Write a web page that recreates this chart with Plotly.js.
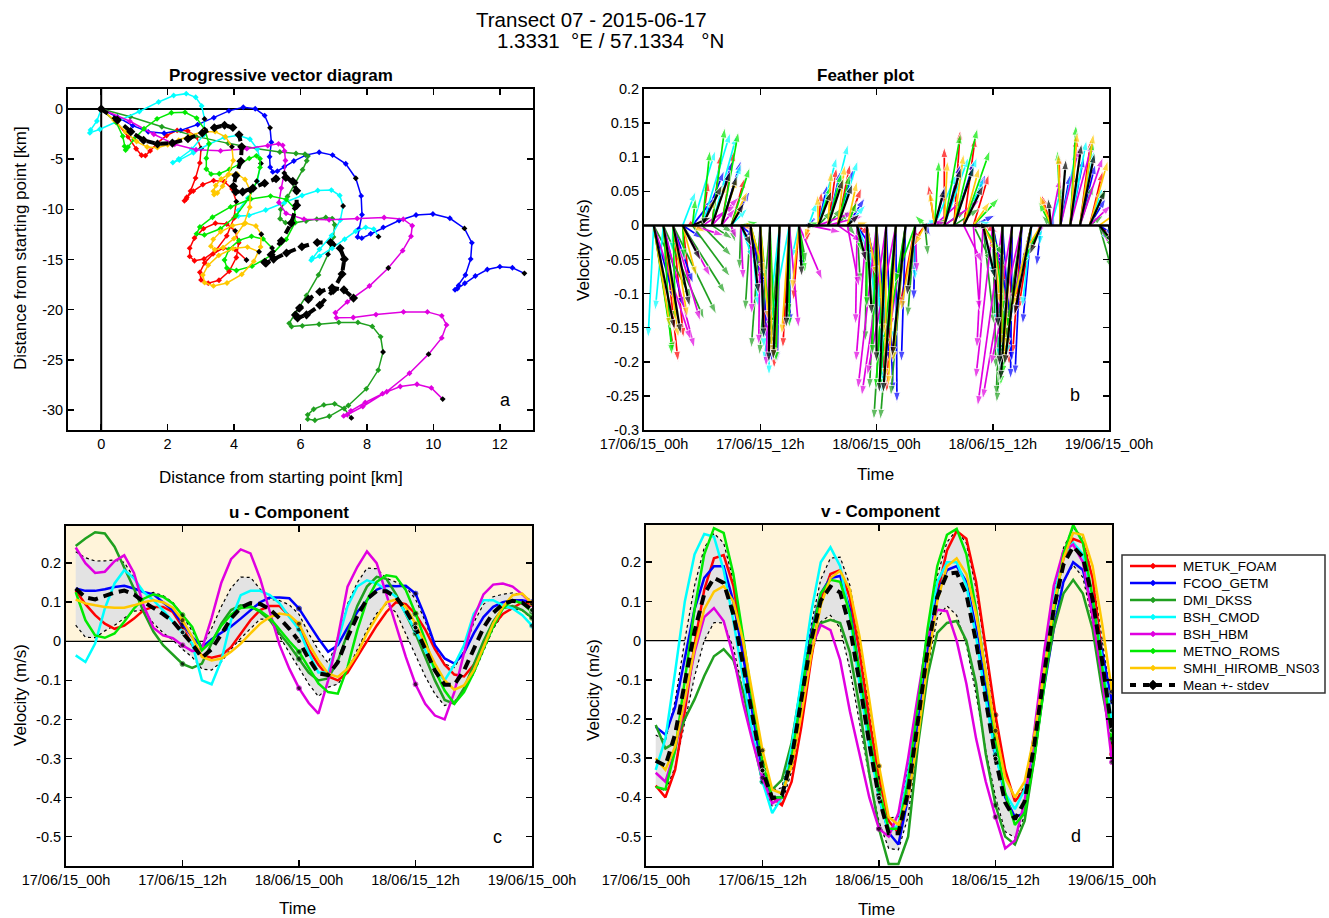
<!DOCTYPE html>
<html><head><meta charset="utf-8">
<script src="https://cdn.plot.ly/plotly-3.0.1.min.js"></script>
<style>html,body{margin:0;padding:0;background:#fff;}#chart{width:1329px;height:918px;}</style>
</head><body><div id="chart"></div>
<script>
// ---------------- DATA ----------------
const hours = [1,2,3,4,5,6,7,8,9,10,11,12,13,14,15,16,17,18,19,20,21,22,23,24,25,26,27,28,29,30,31,32,33,34,35,36,37,38,39,40,41,42,43,44,45,46,47,48];
const models = ["METUK_FOAM","FCOO_GETM","DMI_DKSS","BSH_CMOD","BSH_HBM","METNO_ROMS","SMHI_HIROMB_NS03"];
const meanName = "Mean +- stdev";
const colors = ["#ff0000","#0000ff","#20a020","#00ffff","#e000e0","#00ea00","#ffc800"];

// u-component (m/s), hourly
const u_METUK_FOAM = [0.13,0.095,0.067,0.045,0.032,0.04,0.058,0.08,0.088,0.088,0.075,0.037,-0.01,-0.036,-0.042,-0.036,-0.015,0.02,0.054,0.08,0.09,0.09,0.065,0.035,-0.02,-0.06,-0.09,-0.1,-0.08,-0.04,0.0,0.04,0.075,0.1,0.095,0.07,0.03,-0.02,-0.06,-0.085,-0.09,-0.06,-0.01,0.04,0.07,0.085,0.1,0.095];
const u_FCOO_GETM = [0.135,0.129,0.129,0.133,0.139,0.142,0.135,0.126,0.12,0.1,0.079,0.045,0.011,-0.015,0.005,0.022,0.038,0.058,0.08,0.1,0.112,0.112,0.11,0.084,0.045,0.007,-0.027,-0.01,0.035,0.075,0.105,0.132,0.142,0.141,0.142,0.122,0.062,-0.01,-0.044,-0.057,-0.03,0.02,0.062,0.088,0.1,0.105,0.105,0.1];
const u_DMI_DKSS = [0.244,0.263,0.279,0.276,0.242,0.19,0.135,0.075,0.025,-0.01,-0.035,-0.058,-0.068,-0.057,-0.005,0.045,0.08,0.092,0.09,0.075,0.054,0.02,-0.01,-0.045,-0.08,-0.1,-0.095,-0.05,0.02,0.09,0.14,0.165,0.16,0.12,0.07,0.02,-0.04,-0.1,-0.15,-0.16,-0.12,-0.06,0.0,0.05,0.085,0.09,0.08,0.06];
const u_BSH_CMOD = [-0.036,-0.053,-0.006,0.084,0.148,0.182,0.161,0.126,0.105,0.079,0.05,0.024,-0.006,-0.1,-0.11,-0.049,0.054,0.118,0.129,0.129,0.118,0.097,0.062,0.03,-0.03,-0.08,-0.08,0.0,0.09,0.14,0.156,0.148,0.131,0.114,0.07,0.028,-0.023,-0.074,-0.1,-0.06,-0.01,0.07,0.105,0.105,0.092,0.084,0.067,0.04];
const u_BSH_HBM = [0.24,0.2,0.175,0.178,0.205,0.22,0.175,0.09,0.035,0.015,0.008,-0.01,-0.025,-0.02,0.06,0.15,0.21,0.235,0.225,0.16,0.075,-0.01,-0.07,-0.12,-0.158,-0.185,-0.1,0.01,0.14,0.19,0.23,0.2,0.12,0.04,-0.04,-0.11,-0.16,-0.19,-0.2,-0.13,-0.03,0.06,0.12,0.145,0.148,0.14,0.12,0.095];
const u_METNO_ROMS = [0.126,0.054,0.015,0.009,0.02,0.05,0.084,0.109,0.12,0.114,0.097,0.067,0.037,-0.023,0.0,0.04,0.068,0.085,0.088,0.078,0.06,0.03,0.0,-0.027,-0.066,-0.108,-0.13,-0.134,-0.066,0.028,0.105,0.152,0.169,0.165,0.131,0.071,0.003,-0.074,-0.126,-0.16,-0.13,-0.08,-0.02,0.037,0.084,0.105,0.097,0.075];
const u_SMHI_HIROMB_NS03 = [0.107,0.097,0.092,0.088,0.086,0.086,0.092,0.1,0.105,0.1,0.086,0.054,0.011,-0.04,-0.049,-0.044,-0.027,-0.006,0.02,0.045,0.062,0.071,0.067,0.045,-0.006,-0.049,-0.083,-0.091,-0.07,-0.032,0.02,0.062,0.1,0.107,0.088,0.045,-0.006,-0.057,-0.1,-0.124,-0.113,-0.074,-0.015,0.045,0.088,0.118,0.122,0.097];

// v-component (m/s), hourly
const v_METUK_FOAM = [-0.37,-0.40,-0.33,-0.18,-0.01,0.13,0.21,0.218,0.14,-0.01,-0.17,-0.32,-0.40,-0.42,-0.36,-0.22,-0.05,0.10,0.17,0.18,0.11,-0.03,-0.20,-0.35,-0.46,-0.49,-0.40,-0.24,-0.05,0.12,0.23,0.28,0.26,0.15,-0.02,-0.19,-0.33,-0.41,-0.38,-0.25,-0.08,0.09,0.21,0.26,0.25,0.16,-0.04,-0.29];
const v_FCOO_GETM = [-0.22,-0.24,-0.17,-0.04,0.08,0.16,0.19,0.19,0.10,-0.04,-0.19,-0.34,-0.40,-0.40,-0.29,-0.13,0.02,0.12,0.16,0.165,0.08,-0.08,-0.24,-0.40,-0.49,-0.52,-0.40,-0.22,-0.03,0.12,0.18,0.19,0.15,0.03,-0.12,-0.28,-0.40,-0.45,-0.44,-0.29,-0.12,0.03,0.15,0.20,0.18,0.08,-0.03,-0.155];
const v_DMI_DKSS = [-0.215,-0.275,-0.26,-0.20,-0.15,-0.09,-0.04,-0.022,-0.05,-0.13,-0.25,-0.36,-0.38,-0.355,-0.26,-0.11,0.0,0.045,0.053,0.045,-0.03,-0.17,-0.34,-0.48,-0.57,-0.57,-0.50,-0.27,-0.09,0.02,0.045,0.05,0.0,-0.11,-0.29,-0.42,-0.50,-0.52,-0.46,-0.30,-0.11,0.03,0.12,0.155,0.12,0.03,-0.13,-0.26];
const v_BSH_CMOD = [-0.33,-0.25,-0.08,0.10,0.22,0.272,0.265,0.18,0.05,-0.10,-0.24,-0.36,-0.44,-0.40,-0.27,-0.10,0.07,0.20,0.238,0.19,0.06,-0.11,-0.27,-0.40,-0.49,-0.47,-0.34,-0.16,0.02,0.15,0.20,0.20,0.14,0.01,-0.15,-0.29,-0.39,-0.43,-0.38,-0.24,-0.06,0.11,0.22,0.25,0.22,0.11,-0.05,-0.21];
const v_BSH_HBM = [-0.337,-0.36,-0.28,-0.15,-0.03,0.06,0.083,0.05,-0.04,-0.16,-0.26,-0.35,-0.415,-0.40,-0.30,-0.16,-0.02,0.04,0.027,-0.05,-0.18,-0.29,-0.40,-0.48,-0.50,-0.44,-0.30,-0.14,0.01,0.079,0.075,0.0,-0.11,-0.25,-0.36,-0.45,-0.53,-0.51,-0.41,-0.23,-0.03,0.14,0.23,0.245,0.20,0.06,-0.10,-0.31];
const v_METNO_ROMS = [-0.373,-0.38,-0.28,-0.10,0.08,0.22,0.287,0.275,0.17,0.01,-0.16,-0.31,-0.40,-0.40,-0.30,-0.14,0.01,0.12,0.155,0.15,0.07,-0.08,-0.24,-0.38,-0.48,-0.48,-0.36,-0.17,0.03,0.19,0.27,0.285,0.22,0.08,-0.09,-0.25,-0.39,-0.47,-0.44,-0.30,-0.12,0.07,0.22,0.295,0.25,0.11,-0.07,-0.25];
const v_SMHI_HIROMB_NS03 = [-0.30,-0.33,-0.27,-0.15,-0.02,0.08,0.125,0.139,0.10,0.0,-0.14,-0.28,-0.38,-0.39,-0.32,-0.19,-0.04,0.09,0.16,0.178,0.13,0.01,-0.15,-0.32,-0.45,-0.47,-0.40,-0.25,-0.06,0.10,0.19,0.21,0.17,0.07,-0.08,-0.23,-0.35,-0.40,-0.36,-0.24,-0.08,0.09,0.21,0.275,0.27,0.19,0.04,-0.13];

// tick labels
const timeTickVals = [0,12,24,36,48];
const timeTickText = ["17/06/15_00h","17/06/15_12h","18/06/15_00h","18/06/15_12h","19/06/15_00h"];
const pvdXTickVals = [0,2,4,6,8,10,12];
const pvdXTickText = ["0","2","4","6","8","10","12"];
const pvdYTickVals = [0,-5,-10,-15,-20,-25,-30];
const pvdYTickText = ["0","-5","-10","-15","-20","-25","-30"];
const featherYTickVals = [0.2,0.15,0.1,0.05,0,-0.05,-0.1,-0.15,-0.2,-0.25,-0.3];
const featherYTickText = ["0.2","0.15","0.1","0.05","0","-0.05","-0.1","-0.15","-0.2","-0.25","-0.3"];
const compYTickVals = [0.2,0.1,0,-0.1,-0.2,-0.3,-0.4,-0.5];
const compYTickText = ["0.2","0.1","0","-0.1","-0.2","-0.3","-0.4","-0.5"];

// ---------------- DERIVED ----------------
const U = [u_METUK_FOAM,u_FCOO_GETM,u_DMI_DKSS,u_BSH_CMOD,u_BSH_HBM,u_METNO_ROMS,u_SMHI_HIROMB_NS03];
const V = [v_METUK_FOAM,v_FCOO_GETM,v_DMI_DKSS,v_BSH_CMOD,v_BSH_HBM,v_METNO_ROMS,v_SMHI_HIROMB_NS03];
function meanOf(S){ return hours.map((_,i)=>S.reduce((s,a)=>s+a[i],0)/S.length); }
function stdOf(S,m){ return hours.map((_,i)=>Math.sqrt(S.reduce((s,a)=>s+(a[i]-m[i])*(a[i]-m[i]),0)/(S.length-1))); }
const uMean = meanOf(U), vMean = meanOf(V);
const uStd = stdOf(U,uMean), vStd = stdOf(V,vMean);
// progressive vector: cumulative displacement (km) from hourly velocities
function cumKm(arr){ const out=[0]; let s=0; arr.forEach(a=>{ s += a*3600/1000; out.push(s); }); return out; }
const FEATHER_X = 16;   // hours of horizontal offset per m/s
const FEATHER_Y = 0.5;  // vertical scale of feather arrows

const FONT = 'Liberation Sans, Arial, Helvetica, sans-serif';
const traces = [];

// ---- panel a: progressive vector diagram
function pvdTrace(u,v,name,col,isMean){
  const px = cumKm(u), py = cumKm(v);
  const mc = px.map((_,i)=> (i>0 && i%12===0) ? '#000' : col);
  return {type:'scatter', mode:'lines+markers', x:px, y:py, xaxis:'x', yaxis:'y', name:name,
    line: isMean ? {color:'#000', width:4, dash:'8px,6px'} : {color:col, width:1.5},
    marker: isMean ? {symbol:'diamond', size:7, color:'#000'} : {symbol:'diamond', size:4.5, color:mc},
    showlegend:false, hoverinfo:'skip'};
}
models.forEach((m,k)=>traces.push(pvdTrace(U[k],V[k],m,colors[k],false)));
traces.push(pvdTrace(uMean,vMean,meanName,'#000',true));

// ---- panel b: feather plot
function featherTrace(u,v,col,w){
  const x=[],y=[],s=[];
  hours.forEach((h,i)=>{ x.push(h, h+FEATHER_X*u[i], null); y.push(0, FEATHER_Y*v[i], null); s.push(0,11,0); });
  return {type:'scatter', mode:'lines+markers', x:x, y:y, xaxis:'x2', yaxis:'y2', showlegend:false,
    line:{color:col, width:w}, marker:{symbol:'arrow', angleref:'previous', size:s, color:col},
    connectgaps:false, hoverinfo:'skip'};
}
models.forEach((m,k)=>traces.push(featherTrace(U[k],V[k],colors[k],1.7)));
traces.push(featherTrace(uMean,vMean,'#000',2.2));

// ---- panels c, d: component time series
function compTraces(S,mean,std,xa,ya){
  const out=[];
  const lo = mean.map((m,i)=>m-std[i]), hi = mean.map((m,i)=>m+std[i]);
  out.push({type:'scatter', mode:'lines', x:hours, y:lo, xaxis:xa, yaxis:ya, showlegend:false,
    line:{color:'#000', width:1.2, dash:'dot'}, hoverinfo:'skip'});
  out.push({type:'scatter', mode:'lines', x:hours, y:hi, xaxis:xa, yaxis:ya, showlegend:false, fill:'tonexty',
    fillcolor:'#e3e3e3', line:{color:'#000', width:1.2, dash:'dot'}, hoverinfo:'skip'});
  const dot = hours.map(h=> h%12===0 ? 5 : 0);
  S.forEach((a,k)=>out.push({type:'scatter', mode:'lines+markers', x:hours, y:a, xaxis:xa, yaxis:ya, showlegend:false,
    line:{color:colors[k], width:2.5}, marker:{size:dot, color:'#000'}, hoverinfo:'skip'}));
  out.push({type:'scatter', mode:'lines+markers', x:hours, y:mean, xaxis:xa, yaxis:ya, showlegend:false,
    line:{color:'#000', width:4, dash:'10px,6px'}, marker:{size:dot, color:'#000'}, hoverinfo:'skip'});
  return out;
}
traces.push(...compTraces(U,uMean,uStd,'x3','y3'));
traces.push(...compTraces(V,vMean,vStd,'x4','y4'));

// ---------------- LAYOUT ----------------
const tickFont = {family:FONT, size:14.5, color:'#000'};
function ax(extra){ return Object.assign({showline:true, linecolor:'#000', linewidth:2, mirror:'allticks', ticks:'inside',
  ticklen:6, tickwidth:1.5, tickcolor:'#000', showgrid:false, zeroline:false, tickfont:tickFont, fixedrange:true}, extra); }
const W=1329, H=918;
const px = v=>v/W, py = v=>1-v/H;
function ann(text,x,y,size,extra){ return Object.assign({text:text, x:px(x), y:py(y), xref:'paper', yref:'paper',
  showarrow:false, xanchor:'center', yanchor:'middle', font:{family:FONT, size:size, color:'#000'}}, extra||{}); }

const shapes = [
  {type:'line', xref:'x', yref:'y', x0:0, x1:0, y0:-32, y1:2, line:{color:'#000', width:2}, layer:'below'},
  {type:'line', xref:'x', yref:'y', x0:-1, x1:13, y0:0, y1:0, line:{color:'#000', width:2}, layer:'below'},
  {type:'line', xref:'x2', yref:'y2', x0:0, x1:48, y0:0, y1:0, line:{color:'#000', width:2.5}, layer:'above'},
  {type:'rect', xref:'x3', yref:'y3', x0:0, x1:48, y0:0, y1:0.295, fillcolor:'#fff4da', line:{width:0}, layer:'below'},
  {type:'line', xref:'x3', yref:'y3', x0:0, x1:48, y0:0, y1:0, line:{color:'#000', width:1.3}, layer:'below'},
  {type:'rect', xref:'x4', yref:'y4', x0:0, x1:48, y0:0, y1:0.295, fillcolor:'#fff4da', line:{width:0}, layer:'below'},
  {type:'line', xref:'x4', yref:'y4', x0:0, x1:48, y0:0, y1:0, line:{color:'#000', width:1.3}, layer:'below'}
];
const annotations = [
  ann('Transect 07 - 2015-06-17', 591, 19, 20.5),
  ann('1.3331\u00a0\u00a0°E / 57.1334\u00a0\u00a0\u00a0°N', 610, 40, 20.5),
  ann('<b>Progressive vector diagram</b>', 281, 75, 17),
  ann('<b>Feather plot</b>', 866, 75, 17),
  ann('<b>u - Component</b>', 289, 512, 17),
  ann('<b>v - Component</b>', 880, 511, 17),
  ann('Distance from starting point [km]', 281, 477, 17),
  ann('Distance from starting point [km]', 20, 248, 17, {textangle:-90}),
  ann('Time', 875, 474, 17),
  ann('Velocity (m/s)', 583, 250, 17, {textangle:-90}),
  ann('Time', 297, 908, 17),
  ann('Velocity (m/s)', 20, 695, 17, {textangle:-90}),
  ann('Time', 876, 909, 17),
  ann('Velocity (m/s)', 593, 690, 17, {textangle:-90}),
  ann('a', 505, 400, 18),
  ann('b', 1075, 395, 18),
  ann('c', 497, 837, 18),
  ann('d', 1076, 836, 18)
];

// ---- legend box (drawn as shapes + text)
shapes.push({type:'rect', xref:'paper', yref:'paper', x0:px(1122), x1:px(1325), y0:py(693), y1:py(555),
  fillcolor:'#fff', line:{color:'#333', width:1.5}, layer:'above'});
function diamond(cx,cy,r){ return 'M'+px(cx-r)+','+py(cy)+' L'+px(cx)+','+py(cy-r)+' L'+px(cx+r)+','+py(cy)+' L'+px(cx)+','+py(cy+r)+' Z'; }
const legNames = models.concat([meanName]);
const legColors = colors.concat(['#000']);
legNames.forEach((nm,i)=>{
  const yc = 566 + i*17;
  const isMean = i===models.length;
  shapes.push({type:'line', xref:'paper', yref:'paper', x0:px(1130), x1:px(1176), y0:py(yc), y1:py(yc),
    line:{color:legColors[i], width:isMean?4:2.5, dash:isMean?'6px,7px':'solid'}, layer:'above'});
  const r = isMean?5:3;
  shapes.push({type:'path', xref:'paper', yref:'paper', path:diamond(1153,yc,r), fillcolor:legColors[i],
    line:{color:legColors[i], width:0.5}, layer:'above'});
  annotations.push(ann(nm, 1181, yc, 13.5, {xanchor:'left'}));
});

const layout = {
  width:W, height:H, margin:{l:0,r:0,t:0,b:0}, paper_bgcolor:'#fff', plot_bgcolor:'rgba(0,0,0,0)',
  showlegend:false,
  xaxis: ax({domain:[px(68),px(533)], range:[-1,13], tickvals:pvdXTickVals, ticktext:pvdXTickText, anchor:'y'}),
  yaxis: ax({domain:[py(430),py(89)], range:[-32,2], tickvals:pvdYTickVals, ticktext:pvdYTickText, anchor:'x'}),
  xaxis2: ax({domain:[px(644),px(1109)], range:[0,48], tickvals:timeTickVals, ticktext:timeTickText, anchor:'y2'}),
  yaxis2: ax({domain:[py(430),py(89)], range:[-0.3,0.2], tickvals:featherYTickVals, ticktext:featherYTickText, anchor:'x2'}),
  xaxis3: ax({domain:[px(66),px(532)], range:[0,48], tickvals:timeTickVals, ticktext:timeTickText, anchor:'y3'}),
  yaxis3: ax({domain:[py(866),py(526)], range:[-0.575,0.295], tickvals:compYTickVals, ticktext:compYTickText, anchor:'x3'}),
  xaxis4: ax({domain:[px(646),px(1112)], range:[0,48], tickvals:timeTickVals, ticktext:timeTickText, anchor:'y4'}),
  yaxis4: ax({domain:[py(866),py(525)], range:[-0.575,0.295], tickvals:compYTickVals, ticktext:compYTickText, anchor:'x4'}),
  shapes: shapes,
  annotations: annotations
};
Plotly.newPlot('chart', traces, layout, {displayModeBar:false, staticPlot:true});
</script></body></html>
